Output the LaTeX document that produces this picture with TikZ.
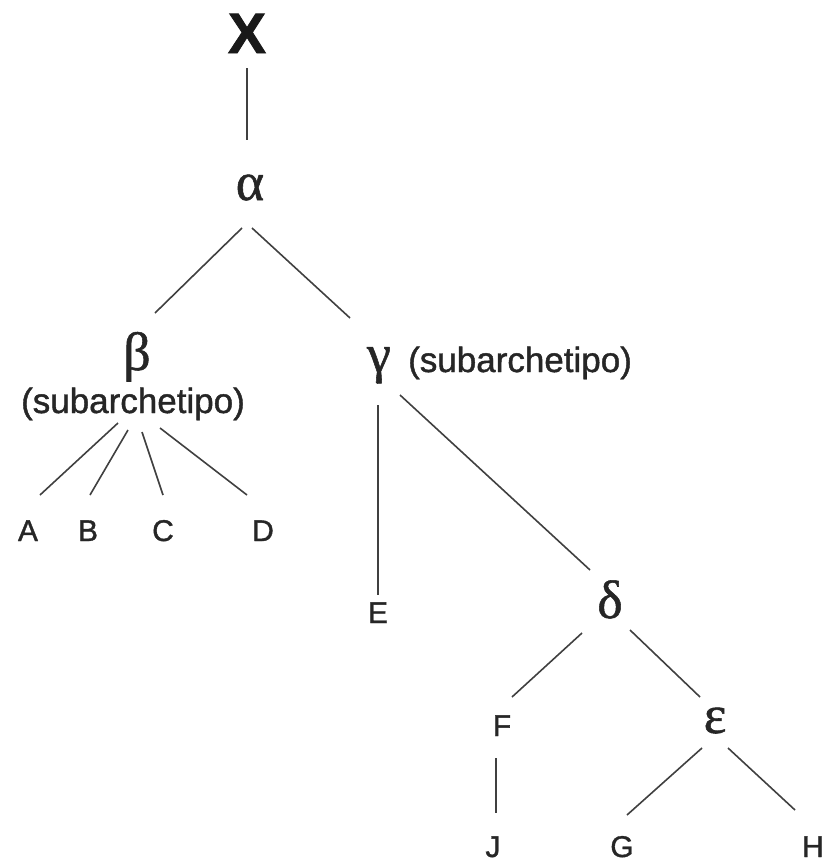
\documentclass[tikz,border=0pt]{standalone}
\usepackage{fontspec}
\setmainfont{Liberation Sans}[FakeBold=1.5]
\newfontfamily\lab{Liberation Sans}[FakeBold=1.2,AutoFakeBold=1.2]
\newfontfamily\grk{Liberation Serif}[AutoFakeBold=1.0]
\begin{document}
\begin{tikzpicture}[x=1pt,y=-1pt,
  lbl/.style={anchor=base,inner sep=0pt,text=black!85,font=\lab\bfseries\fontsize{30}{36}\selectfont},
  sub/.style={anchor=base,inner sep=0pt,text=black!85,font=\lab\bfseries\fontsize{35}{42}\selectfont},
  gk/.style={anchor=base,inner sep=0pt,text=black!85,font=\grk\bfseries\fontsize{54}{64}\selectfont},
  top/.style={anchor=base,inner sep=0pt,text=black!90,font=\bfseries\fontsize{57}{68}\selectfont},
  edge/.style={draw=black!75,line width=1.6pt}]
\useasboundingbox (0,0) rectangle (823,862);
% nodes, placed by their baselines
\node[top] (x) at (247,53) {X};
\node[gk] (alpha) at (250,200) {α};
\node[gk] (beta) at (137,370) {β};
\node[sub] (betasub) at (133,413) {(subarchetipo)};
\node[gk] (gamma) at (379,372) {γ};
\node[sub,anchor=base west] (gammasub) at (408,372) {(subarchetipo)};
\node[lbl] (a) at (28,541) {A};
\node[lbl] (b) at (88,541) {B};
\node[lbl] (c) at (163,541) {C};
\node[lbl] (d) at (263,541) {D};
\node[lbl] (e) at (378,623) {E};
\node[gk] (delta) at (610,618) {δ};
\node[lbl] (f) at (502,736) {F};
\node[gk] (eps) at (715,733) {ε};
\node[lbl] (j) at (493,857) {J};
\node[lbl] (g) at (622,857) {G};
\node[lbl] (h) at (813,857) {H};
% connectors
\draw[edge] ([shift={(0,15)}]x.base) -- ([shift={(-3,-60)}]alpha.base);
\draw[edge] ([shift={(-8,28)}]alpha.base) -- ([shift={(18,-57)}]beta.base);
\draw[edge] ([shift={(2,28)}]alpha.base) -- ([shift={(-29,-54)}]gamma.base);
\draw[edge] ([shift={(-15,10)}]betasub.base) -- ([shift={(12,-46)}]a.base);
\draw[edge] ([shift={(-5,17)}]betasub.base) -- ([shift={(2,-46)}]b.base);
\draw[edge] ([shift={(9,19)}]betasub.base) -- ([shift={(0,-46)}]c.base);
\draw[edge] ([shift={(27,15)}]betasub.base) -- ([shift={(-16,-46)}]d.base);
\draw[edge] ([shift={(-1,33)}]gamma.base) -- ([shift={(0,-28)}]e.base);
\draw[edge] ([shift={(21,23)}]gamma.base) -- ([shift={(-20,-48)}]delta.base);
\draw[edge] ([shift={(-28,15)}]delta.base) -- ([shift={(10,-39)}]f.base);
\draw[edge] ([shift={(20,12)}]delta.base) -- ([shift={(-15,-36)}]eps.base);
\draw[edge] ([shift={(-6,22)}]f.base) -- ([shift={(3,-44)}]j.base);
\draw[edge] ([shift={(-13,15)}]eps.base) -- ([shift={(5,-42)}]g.base);
\draw[edge] ([shift={(13,15)}]eps.base) -- ([shift={(-18,-47)}]h.base);
\end{tikzpicture}
\end{document}
